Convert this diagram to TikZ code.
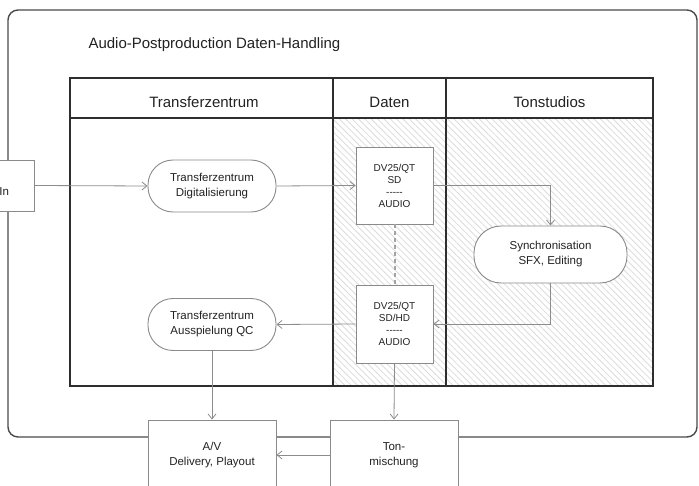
\documentclass[tikz,border=0pt]{standalone}
\usepackage{fontspec}
\setmainfont{Liberation Sans}
\usetikzlibrary{arrows.meta,patterns.meta}
\definecolor{framecol}{HTML}{4A4A4A}
\definecolor{tablecol}{HTML}{2E2E2E}
\definecolor{nodecol}{HTML}{8A8A8A}
\definecolor{arrowcol}{HTML}{8C8C8C}
\definecolor{hatchcol}{HTML}{DCDCDC}
\definecolor{textcol}{HTML}{222222}
\tikzset{
  bigtext/.style={font=\fontsize{15}{18}\selectfont, text=textcol},
  proc/.style={draw=nodecol, line width=0.9pt, fill=white, rounded corners=25pt,
    minimum width=128pt, minimum height=52pt, inner sep=0pt, align=center,
    font=\fontsize{11.5}{15}\selectfont, text=textcol},
  databox/.style={draw=nodecol, line width=0.9pt, fill=white,
    minimum width=77pt, minimum height=77pt, inner sep=0pt, align=center,
    font=\fontsize{10}{12}\selectfont, text=textcol},
  iobox/.style={draw=nodecol, line width=0.9pt, fill=white,
    minimum width=128pt, minimum height=80pt, inner sep=0pt, align=center,
    font=\fontsize{11.5}{15}\selectfont, text=textcol},
  flow/.style={draw=arrowcol, line width=0.8pt,
    -{Straight Barb[length=5pt,width=8pt,line width=0.8pt]}},
  linkdash/.style={draw=arrowcol!80, line width=2pt, dash pattern=on 4pt off 3pt},
}
\begin{document}
\begin{tikzpicture}[x=1pt,y=-1pt]
\useasboundingbox (0,0) rectangle (699,486);
\clip (0,0) rectangle (699,486);
\fill[white] (0,0) rectangle (699,486);

% outer frame
\draw[framecol, line width=1.4pt, rounded corners=10pt] (8,10) rectangle (697,437);
\node[bigtext, anchor=base west] (title) at (85,49) {Audio-Postproduction Daten-Handling};

% swimlane table
\fill[white] (70,78) rectangle (653,386);
\fill[pattern={Lines[angle=-45,distance=4.5pt,line width=0.8pt]}, pattern color=hatchcol]
  (333,118) rectangle (653,386);
\draw[tablecol, line width=1.6pt] (70,78) rectangle (653,386);
\draw[tablecol, line width=1.6pt] (70,118) -- (653,118);
\draw[tablecol, line width=1.6pt] (333,78) -- (333,386);
\draw[tablecol, line width=1.6pt] (446,78) -- (446,386);
\node[bigtext, anchor=base] (h1) at (204,108) {Transferzentrum};
\node[bigtext, anchor=base] (h2) at (389.5,108) {Daten};
\node[bigtext, anchor=base] (h3) at (549.5,108) {Tonstudios};

% process nodes
\node[draw=nodecol, line width=0.9pt, fill=white, minimum width=74pt, minimum height=51pt,
  inner sep=0pt] (in) at (-3,185.5) {};
\node[font=\fontsize{11.5}{15}\selectfont, text=textcol, anchor=base east] (inlabel) at (12.5,196) {In};
\node[proc] (dig) at (212,186) {Transferzentrum\\Digitalisierung};
\node[databox] (dv1) at (394.5,185.5) {DV25/QT\\SD\\-{}-{}-{}-{}-\\AUDIO};
\node[proc, minimum width=153pt, minimum height=57pt, rounded corners=27pt] (sync) at (550.5,254.5) {Synchronisation\\SFX, Editing};
\node[databox, minimum height=78pt] (dv2) at (394.5,324) {DV25/QT\\SD/HD\\-{}-{}-{}-{}-\\AUDIO};
\node[proc] (qc) at (212,324.5) {Transferzentrum\\Ausspielung QC};
\node[iobox] (av) at (212,460) {};
\node[font=\fontsize{11.5}{15}\selectfont, text=textcol, align=center] (avlabel) at (212,455) {A/V\\Delivery, Playout};
\node[iobox] (ton) at (394,460) {};
\node[font=\fontsize{11.5}{15}\selectfont, text=textcol, align=center] (tonlabel) at (394,455) {Ton-\\mischung};

% connectors
\draw[flow] (in.east) -- (dig.west);
\draw[flow] (dig.east) -- (dv1.west);
\draw[flow] (dv1.east) -| (sync.north);
\draw[linkdash] (dv1.south) -- (dv2.north);
\draw[flow] (sync.south) |- (dv2.east);
\draw[flow] (dv2.west) -- (qc.east);
\draw[flow] (qc.south) -- (av.north);
\draw[flow] (dv2.south) -- (ton.north);
\draw[flow] (ton.west |- avlabel) -- (av.east |- avlabel);
\end{tikzpicture}
\end{document}
